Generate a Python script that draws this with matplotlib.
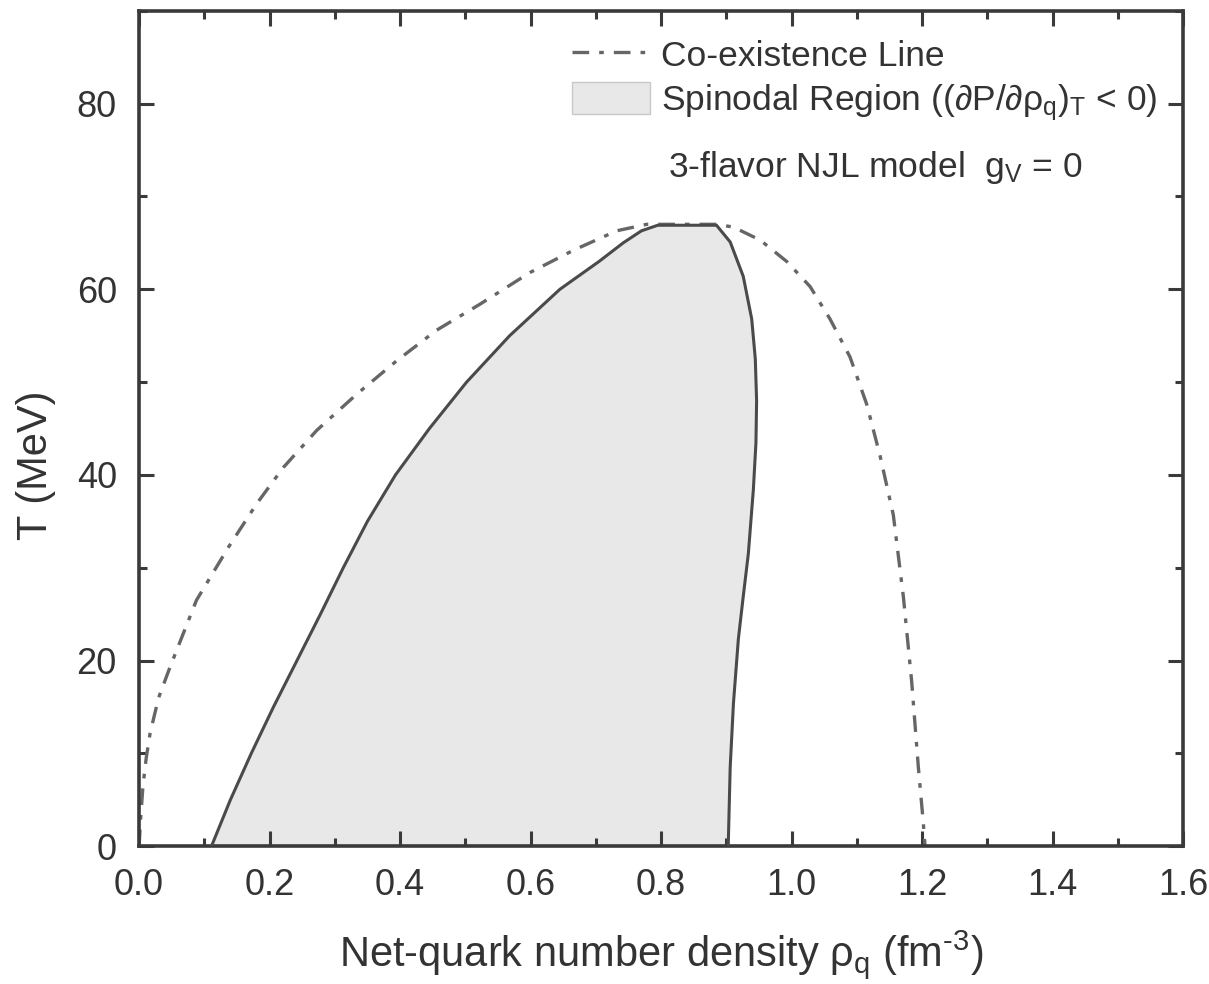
import matplotlib
matplotlib.use("Agg")
import matplotlib.pyplot as plt
from matplotlib.lines import Line2D
from matplotlib.patches import Patch
from matplotlib.ticker import MultipleLocator

plt.rcParams['font.family'] = ['Liberation Sans', 'DejaVu Sans']
plt.rcParams['mathtext.fontset'] = 'custom'
plt.rcParams['mathtext.rm'] = 'Liberation Sans'
plt.rcParams['mathtext.it'] = 'Liberation Sans:italic'
plt.rcParams['mathtext.bf'] = 'Liberation Sans:bold'

# co-existence line (rho_q in fm^-3, T in MeV)
coex_rho = [0.0, 0.002, 0.006, 0.011, 0.017, 0.030, 0.0475, 0.088, 0.1369, 0.1803,
            0.2211, 0.2723, 0.3336, 0.3949, 0.4562, 0.5226, 0.599, 0.6656, 0.732, 0.778,
            0.885, 0.911, 0.952, 0.9926, 1.0284, 1.059, 1.0897, 1.1153, 1.1356, 1.156,
            1.1714, 1.1842, 1.1944, 1.202, 1.2046]
coex_T = [0.0, 2.5, 6.5, 9.5, 12.2, 16.0, 19.3, 26.5, 32.2, 36.9,
          40.8, 44.8, 48.7, 52.3, 55.6, 58.4, 61.8, 64.2, 66.3, 67.0,
          67.0, 66.7, 65.3, 63.0, 60.3, 56.8, 52.7, 47.6, 42.1, 35.7,
          26.9, 17.7, 8.5, 2.5, 0.0]

# spinodal boundary, left branch up then right branch down
spin_rho = [0.111, 0.140, 0.172, 0.206, 0.242, 0.278, 0.313, 0.350, 0.393, 0.445,
            0.502, 0.568, 0.645, 0.705, 0.742, 0.77, 0.795, 0.885, 0.906, 0.926,
            0.939, 0.9445, 0.9465, 0.9455, 0.9415, 0.9338, 0.926, 0.9185, 0.911, 0.906,
            0.903]
spin_T = [0.0, 5.0, 10.0, 15.0, 20.0, 25.0, 30.0, 35.0, 40.0, 45.0,
          50.0, 55.0, 60.0, 63.0, 65.0, 66.3, 66.9, 66.9, 65.1, 61.4,
          56.8, 52.5, 48.0, 43.5, 38.4, 31.5, 26.9, 22.3, 15.4, 8.5,
          0.0]

dark = '#3a3a3a'
txt = '#333333'
fig = plt.figure(figsize=(12.09, 9.84), dpi=100)
ax = fig.add_axes([0.115, 0.140, 0.8635, 0.849])

ax.fill(spin_rho, spin_T, facecolor='#e8e8e8', edgecolor='none', zorder=1)
ax.plot(spin_rho, spin_T, color='#4a4a4a', lw=2.2, zorder=3)
coex, = ax.plot(coex_rho, coex_T, color='#666666', lw=2.4, zorder=2)
coex.set_dashes([5, 3, 1.4, 3])

ax.set_xlim(0, 1.6)
ax.set_ylim(0, 90)
ax.xaxis.set_minor_locator(MultipleLocator(0.1))
ax.yaxis.set_minor_locator(MultipleLocator(10))
ax.set_xticks([0.0, 0.2, 0.4, 0.6, 0.8, 1.0, 1.2, 1.4, 1.6])
ax.set_xticklabels(['0.0', '0.2', '0.4', '0.6', '0.8', '1.0', '1.2', '1.4', '1.6'])
ax.set_yticks([0, 20, 40, 60, 80])

ax.tick_params(which='both', direction='in', top=True, right=True,
               color=dark, width=2.2, labelsize=26, labelcolor=txt)
ax.tick_params(which='major', length=11, pad=16)
ax.tick_params(which='minor', length=6)
for s in ax.spines.values():
    s.set_linewidth(2.6)
    s.set_color(dark)

ax.set_xlabel('Net-quark number density ρ$_\\mathregular{q}$ (fm$^\\mathregular{\u20103}$)',
              fontsize=30, color=txt, labelpad=18)
ax.set_ylabel('T (MeV)', fontsize=30, color=txt)
ax.yaxis.set_label_coords(-0.08, 0.456)

handles = [Line2D([], [], color='#666666', lw=2.4, dashes=[5, 3, 1.4, 3]),
           Patch(facecolor='#e8e8e8', edgecolor='#c8c8c8')]
labels = ['Co-existence Line',
          'Spinodal Region ((∂P/∂ρ$_\\mathregular{q}$)$_\\mathregular{T}$ < 0)']
leg = ax.legend(handles, labels, loc='upper left', bbox_to_anchor=(0.415, 0.967),
                frameon=False, fontsize=25.5, handlelength=2.2, handleheight=1.0,
                handletextpad=0.3, labelspacing=0.25, borderaxespad=0, borderpad=0)
for t in leg.get_texts():
    t.set_color(txt)

ax.text(0.507, 0.801, '3-flavor NJL model  g$_\\mathregular{V}$ = 0', transform=ax.transAxes,
        fontsize=25.5, color=txt, va='baseline', ha='left')

fig.savefig('out.png', dpi=100)
